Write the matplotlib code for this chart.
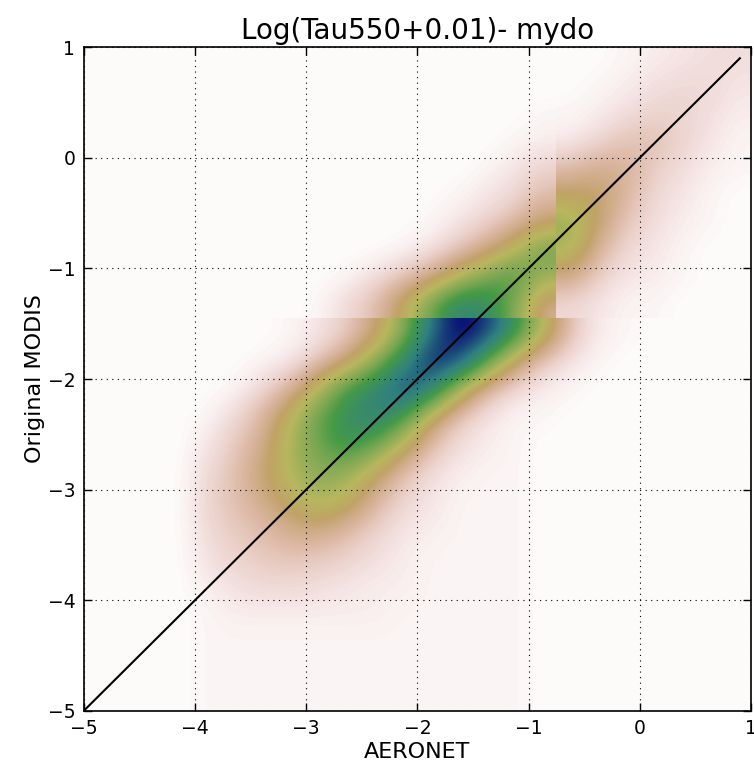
import matplotlib
matplotlib.use("Agg")
import matplotlib.pyplot as plt
import numpy as np

# density tiles (colour level in %, 0 = white, 100 = darkest)
# lower tile: y from -1.45 down to -5, x from -5 to 1 (cell width 0.25)
low_density = [
    [0, 0, 0, 0, 0, 0, 0, 1, 3, 7, 18, 40, 75, 100, 88, 60, 30, 8, 2, 1, 0, 0, 0, 0],
    [0, 0, 0, 0, 0, 0, 1, 2, 7, 18, 38, 65, 95, 85, 50, 20, 7, 3, 1, 0, 0, 0, 0, 0],
    [0, 0, 0, 0, 0, 1, 5, 12, 32, 55, 68, 88, 70, 32, 10, 4, 2, 1, 0, 0, 0, 0, 0, 0],
    [0, 0, 0, 0, 1, 5, 12, 30, 50, 63, 72, 55, 22, 7, 3, 1, 1, 0, 0, 0, 0, 0, 0, 0],
    [0, 0, 0, 0, 3, 8, 16, 35, 48, 60, 48, 26, 9, 4, 2, 1, 0, 0, 0, 0, 0, 0, 0, 0],
    [0, 0, 0, 0, 5, 10, 20, 33, 42, 38, 22, 9, 4, 2, 1, 1, 0, 0, 0, 0, 0, 0, 0, 0],
    [0, 0, 0, 0, 6, 10, 16, 26, 34, 26, 12, 5, 3, 1, 1, 1, 0, 0, 0, 0, 0, 0, 0, 0],
    [0, 0, 0, 0, 5, 8, 11, 16, 17, 11, 6, 3, 2, 1, 1, 1, 0, 0, 0, 0, 0, 0, 0, 0],
    [0, 0, 0, 0, 4, 6, 8, 9, 8, 6, 4, 2, 1, 1, 1, 1, 0, 0, 0, 0, 0, 0, 0, 0],
    [0, 0, 0, 0, 2, 4, 5, 5, 4, 3, 2, 2, 1, 1, 1, 1, 0, 0, 0, 0, 0, 0, 0, 0],
    [0, 0, 0, 0, 1, 2, 2, 2, 2, 2, 2, 1, 1, 1, 1, 1, 0, 0, 0, 0, 0, 0, 0, 0],
    [0, 0, 0, 0, 1, 1, 1, 1, 1, 1, 1, 1, 1, 1, 1, 1, 0, 0, 0, 0, 0, 0, 0, 0],
    [0, 0, 0, 0, 1, 1, 1, 1, 1, 1, 1, 1, 1, 1, 1, 1, 0, 0, 0, 0, 0, 0, 0, 0],
    [0, 0, 0, 0, 1, 1, 1, 1, 1, 1, 1, 1, 1, 1, 1, 1, 0, 0, 0, 0, 0, 0, 0, 0],
]

# upper-left tile: y from 1 down to -1.45, x from -5 to -0.75
upper_left_density = [
    [0, 0, 0, 0, 0, 0, 0, 0, 0, 0, 0, 0, 0, 0, 0, 0, 0],
    [0, 0, 0, 0, 0, 0, 0, 0, 0, 0, 0, 0, 0, 0, 0, 0, 0],
    [0, 0, 0, 0, 0, 0, 0, 0, 0, 0, 0, 0, 0, 0, 0, 0, 1],
    [0, 0, 0, 0, 0, 0, 0, 0, 0, 0, 0, 0, 0, 0, 0, 1, 2],
    [0, 0, 0, 0, 0, 0, 0, 0, 0, 0, 0, 0, 0, 0, 1, 3, 6],
    [0, 0, 0, 0, 0, 0, 0, 0, 0, 0, 0, 0, 0, 1, 3, 5, 11],
    [0, 0, 0, 0, 0, 0, 0, 0, 0, 0, 0, 0, 1, 3, 6, 11, 20],
    [0, 0, 0, 0, 0, 0, 0, 0, 0, 0, 0, 1, 3, 8, 16, 30, 48],
    [0, 0, 0, 0, 0, 0, 0, 0, 0, 1, 4, 8, 15, 30, 46, 55, 35],
    [0, 0, 0, 0, 0, 0, 0, 0, 1, 5, 10, 25, 48, 70, 65, 42, 14],
]

# upper-right tile: y from 1 down to -1.45, x from -0.75 to 1
upper_right_density = [
    [0, 0, 1, 2, 3, 4, 4],
    [0, 1, 2, 4, 5, 5, 3],
    [1, 2, 4, 6, 6, 4, 2],
    [2, 5, 9, 10, 6, 3, 1],
    [10, 15, 14, 7, 4, 2, 1],
    [22, 22, 12, 5, 3, 1, 0],
    [38, 20, 8, 4, 2, 1, 0],
    [34, 12, 5, 3, 1, 0, 0],
    [15, 6, 3, 2, 1, 0, 0],
    [5, 3, 1, 1, 0, 0, 0],
]

tile_extents = {
    "low": [-5, 1, -5, -1.45],
    "upper_left": [-5, -0.75, -1.45, 1],
    "upper_right": [-0.75, 1, -1.45, 1],
}

one_to_one = [-5, 0.9]
ticks = [-5, -4, -3, -2, -1, 0, 1]

fig = plt.figure(figsize=(7.54, 7.64), dpi=100)
fig.patch.set_facecolor('white')
ax = fig.add_axes([0.111, 0.0695, 0.885, 0.8687])

for name, grid in [("low", low_density),
                   ("upper_left", upper_left_density),
                   ("upper_right", upper_right_density)]:
    ax.imshow(np.array(grid) / 100.0, cmap='gist_earth_r', vmin=0, vmax=1,
              extent=tile_extents[name], origin='upper',
              interpolation='bicubic', aspect='auto')

ax.plot(one_to_one, one_to_one, color='black', linewidth=1.5)

ax.set_xlim(-5, 1)
ax.set_ylim(-5, 1)
ax.set_xticks(ticks)
ax.set_yticks(ticks)
ax.grid(True, color='black', linestyle=(0, (1, 4)), linewidth=0.8)
ax.tick_params(direction='in', length=6, width=1, top=True, right=True,
               labelsize=13.5, pad=6)
for s in ax.spines.values():
    s.set_linewidth(1.2)

ax.set_title('Log(Tau550+0.01)- mydo', fontsize=20, pad=6)
ax.set_xlabel('AERONET', fontsize=16, labelpad=3)
ax.set_ylabel('Original MODIS', fontsize=16, labelpad=2)

plt.savefig('out.png', dpi=100, facecolor='white')
